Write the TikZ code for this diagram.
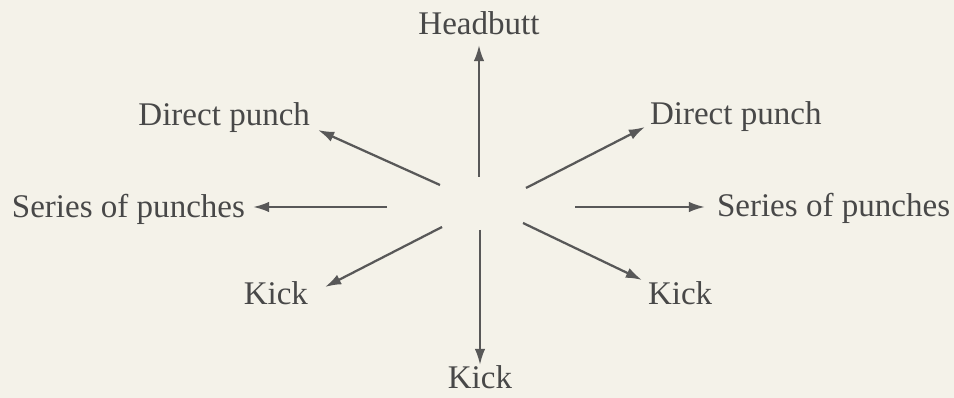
\documentclass[tikz,border=0pt]{standalone}
\usepackage{fontspec}
\setmainfont{Liberation Serif}
\usetikzlibrary{arrows.meta}

\definecolor{paper}{RGB}{244,242,233}
\definecolor{ink}{RGB}{72,72,72}
\definecolor{stroke}{RGB}{88,88,88}

\begin{document}
\begin{tikzpicture}[x=0.025cm,y=-0.025cm,
        word node/.style={inner sep=0pt, outer sep=0pt, text=ink,
        font=\fontsize{23.5}{28}\selectfont},
        move arrow/.style={-{Latex[length=11.5pt,width=7.5pt]}, draw=stroke,
        line width=1.6pt}
        ]

        \fill [paper] (0,0) rectangle (954,398) ;
        \useasboundingbox (0,0) rectangle (954,398) ;

        \node [word node, anchor=base] (hb) at (479,35) {Headbutt} ;
        \node [word node, anchor=base east] (dpl) at (310,126) {Direct punch} ;
        \node [word node, anchor=base west] (dpr) at (650,125) {Direct punch} ;
        \node [word node, anchor=base east] (spl) at (245,218) {Series of punches} ;
        \node [word node, anchor=base west] (spr) at (717,217) {Series of punches} ;
        \node [word node, anchor=base east] (kl) at (308,305) {Kick} ;
        \node [word node, anchor=base west] (kr) at (648,305) {Kick} ;
        \node [word node, anchor=base] (kb) at (480,389) {Kick} ;

        % start points round the middle
        \coordinate (su) at (479,177) ;
        \coordinate (sd) at (480,230) ;
        \coordinate (sl) at (387,207) ;
        \coordinate (sr) at (575,207) ;
        \coordinate (sul) at (440,185) ;
        \coordinate (sur) at (526,188) ;
        \coordinate (sdl) at (442,227) ;
        \coordinate (sdr) at (523,223) ;

        \path
        (su) edge [move arrow] ([shift={(0,10)}]hb.base)
        (sul) edge [move arrow] ([shift={(8,4)}]dpl.base east)
        (sur) edge [move arrow] ([shift={(-5,2)}]dpr.base west)
        (sl) edge [move arrow] ([shift={(8,-11)}]spl.base east)
        (sr) edge [move arrow] ([shift={(-12,-10)}]spr.base west)
        (sdl) edge [move arrow] ([shift={(17,-18)}]kl.base east)
        (sdr) edge [move arrow] ([shift={(-6,-25)}]kr.base west)
        (sd) edge [move arrow] ([shift={(0,-24)}]kb.base)
        ;
\end{tikzpicture}
\end{document}
